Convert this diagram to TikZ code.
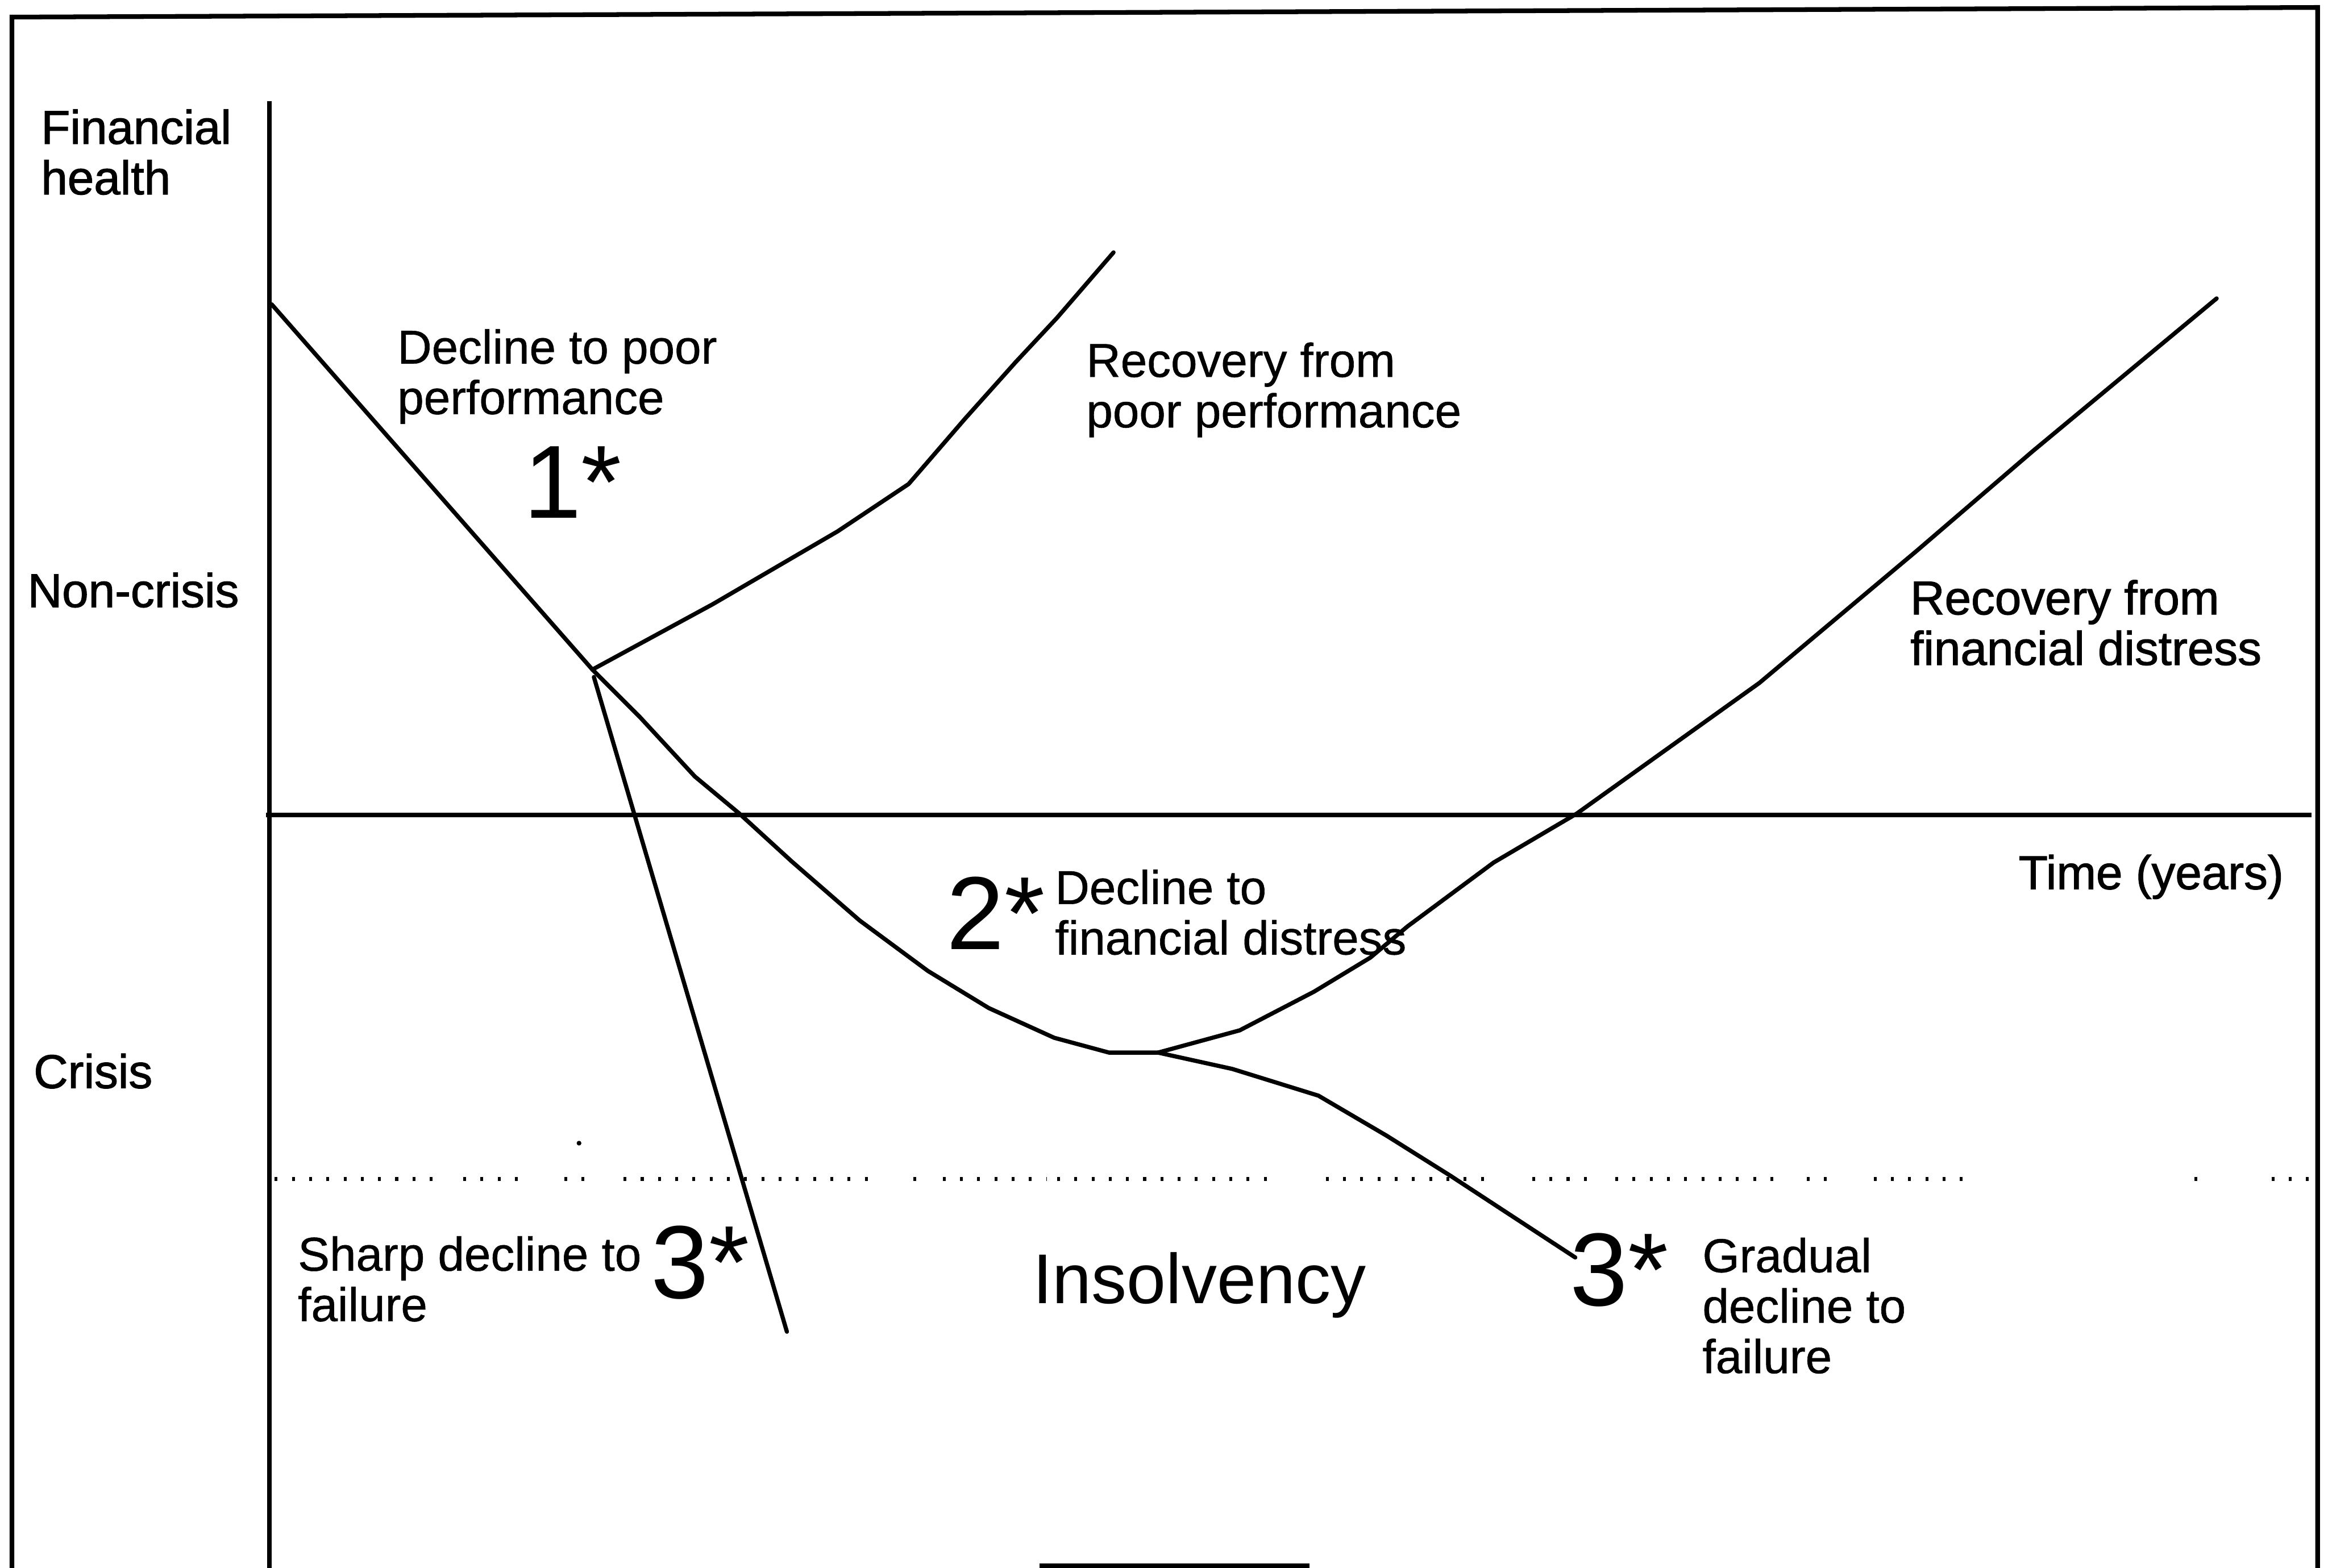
\documentclass[tikz,border=0pt]{standalone}
\usepackage{fontspec}
\setmainfont{Liberation Sans}
\newfontfamily\heavyface{Liberation Sans}[FakeBold=1.4]
\newfontfamily\mediumface{Liberation Sans}[FakeBold=0.7]
\begin{document}
\begin{tikzpicture}[x=0.01cm,y=-0.01cm,
  lbl/.style={anchor=north west,inner sep=0pt,align=left,font=\mediumface\fontsize{9.1}{9.67}\selectfont},
  hlbl/.style={lbl,font=\heavyface\fontsize{9.1}{9.67}\selectfont},
  big/.style={anchor=north west,inner sep=0pt,font=\fontsize{19.9}{22}\selectfont},
  mid/.style={anchor=north west,inner sep=0pt,font=\fontsize{13.5}{15}\selectfont},
  curve/.style={line width=0.8pt,line join=round,line cap=round},
  axis/.style={line width=0.9pt},
  frameline/.style={line width=0.9pt,line join=miter},
  dots/.style={line width=0.75pt,dash pattern=on 0.55pt off 2.75pt}]
\useasboundingbox (0,0) rectangle (1568,1056);

% frame
\coordinate (fBL) at (8,1062);
\coordinate (fTL) at (8,11.5);
\coordinate (fTR) at (1561,5);
\coordinate (fBR) at (1561,1062);
\draw[frameline] (fBL) -- (fTL) -- (fTR) -- (fBR);

% axes
\coordinate (yTop) at (181.5,68);
\coordinate (yBot) at (181.5,1062);
\draw[axis] (yTop) -- (yBot);
\coordinate (tL) at (179,549);
\coordinate (tR) at (1557,549);
\draw[axis] (tL) -- (tR);

% insolvency dotted line
\foreach \a/\b in {185/297,312/350,380/400,420/585,615/622,635/705,712/862,893/1002,1032/1070,1088/1200,1217/1232,1262/1330,1478/1482,1530/1560}
  \draw[dots] (\a,794) -- (\b,794);

% key points
\coordinate (S0) at (183,205);
\coordinate (J1) at (399,451);
\coordinate (J1s) at (400,456);
\coordinate (J2) at (780,709);
\coordinate (E1) at (750,170);
\coordinate (E2) at (530,897);
\coordinate (E3) at (1493,201);
\coordinate (E4) at (1061,847);

% decline to poor performance
\draw[curve] (S0) -- (J1);
% decline to financial distress
\draw[curve] (J1) -- (431,483) -- (468,523) -- (498,548) -- (533,580) -- (579,620)
  -- (625,654) -- (666,679) -- (710,699) -- (747,709) -- (J2);
% recovery from poor performance
\draw[curve] (J1) -- (480,407) -- (564,358) -- (612,326) -- (650,282) -- (684,244)
  -- (712,214) -- (E1);
% sharp decline to failure
\draw[curve] (J1s) -- (E2);
% recovery from financial distress
\draw[curve] (J2) -- (835,694) -- (885,668) -- (923,645) -- (948,624) -- (1006,581)
  -- (1062,548) -- (1185,460) -- (1291,371) -- (1369,304) -- (E3);
% gradual decline to failure
\draw[curve] (J2) -- (830,720) -- (888,738) -- (934,765) -- (977,792) -- (E4);

% specks
\coordinate (speck) at (390,770);
\fill (speck) circle[radius=1.6];
\coordinate (barL) at (700,1054.5);
\coordinate (barR) at (882,1054.5);
\draw[line width=0.9pt] (barL) -- (barR);

% labels
\node[hlbl] (fh) at (27,73) {Financial\\health};
\node[hlbl] (nc) at (18,385) {Non-crisis};
\node[hlbl] (cr) at (22,709) {Crisis};
\node[lbl] (d1) at (267,221) {Decline to poor\\performance};
\node[big] (n1) at (352,300) {1*};
\node[lbl] (r1) at (731,230) {Recovery from\\poor performance};
\node[hlbl] (r2) at (1286,390) {Recovery from\\financial distress};
\node[hlbl] (tm) at (1359,575) {Time (years)};
\node[big] (n2) at (637,590) {2*};
\node[lbl] (d2) at (710,585) {Decline to\\financial distress};
\node[lbl] (sd) at (200,832) {Sharp decline to\\failure};
\node[big] (n3a) at (438,825) {3*};
\node[mid] (ins) at (695,843) {Insolvency};
\node[big] (n3b) at (1057,830) {3*};
\node[lbl] (gd) at (1146,833) {Gradual\\decline to\\failure};
\end{tikzpicture}
\end{document}
